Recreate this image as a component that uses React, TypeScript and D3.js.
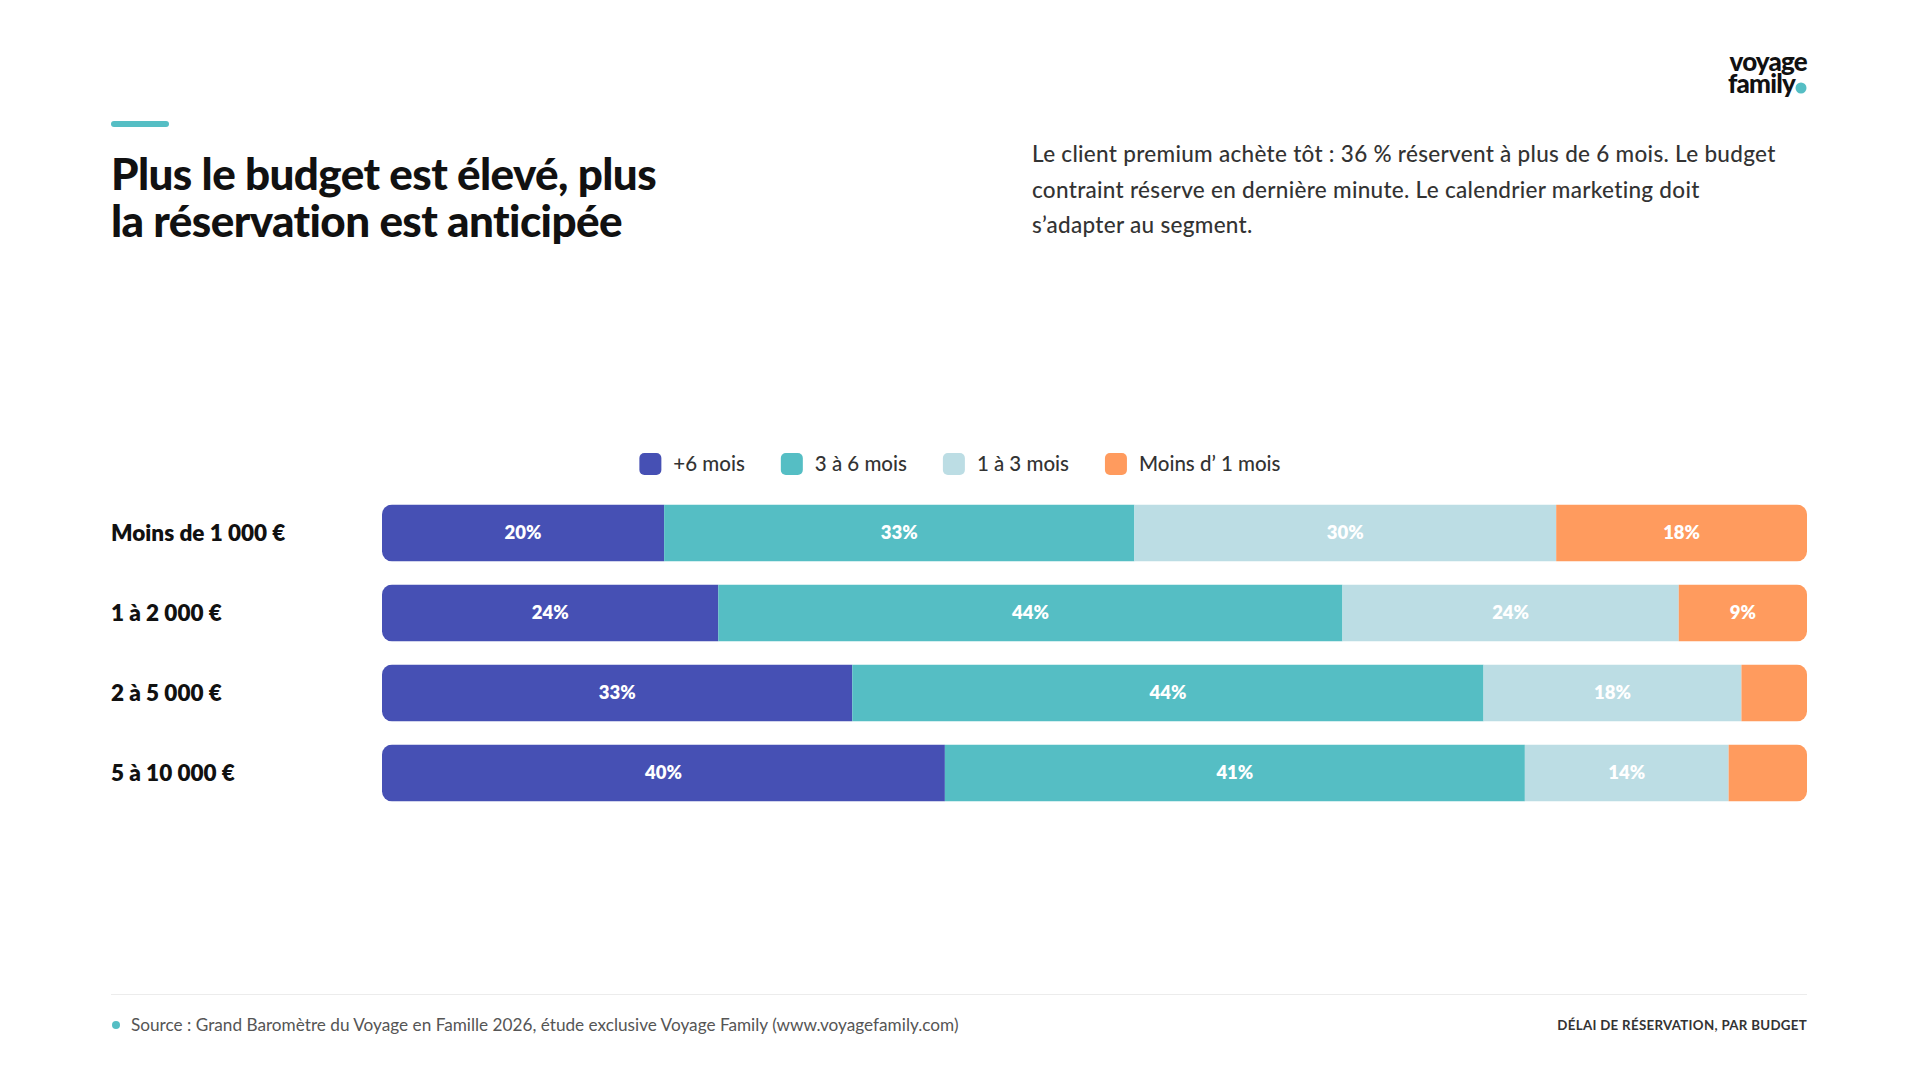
import React from 'react';
import * as d3 from 'd3';

const budgets = ['Moins de 1 000 €', '1 à 2 000 €', '2 à 5 000 €', '5 à 10 000 €'];
const delays = ['+6 mois', '3 à 6 mois', '1 à 3 mois', 'Moins d’ 1 mois'];
const colors = ['#4650B4', '#55BEC4', '#BCDDE4', '#FF9B5E'];

// share of each delay, per budget (same order as delays)
const plus6 = [19.8, 23.6, 33.0, 39.5];
const from3to6 = [33.0, 43.8, 44.3, 40.7];
const from1to3 = [29.6, 23.6, 18.1, 14.3];
const under1 = [17.6, 9.0, 4.6, 5.5];

const title = ['Plus le budget est élevé, plus', 'la réservation est anticipée'];
const subtitle = [
  'Le client premium achète tôt : 36 % réservent à plus de 6 mois. Le budget',
  'contraint réserve en dernière minute. Le calendrier marketing doit',
  's’adapter au segment.',
];
const source = 'Source : Grand Baromètre du Voyage en Famille 2026, étude exclusive Voyage Family (www.voyagefamily.com)';
const footerRight = 'DÉLAI DE RÉSERVATION, PAR BUDGET';

const FONT = 'Lato, "Open Sans", sans-serif';
const W = 1920;
const H = 1080;

const measure = (txt: string, font: string) => {
  const c = document.createElement('canvas').getContext('2d');
  if (!c) return txt.length * 9;
  c.font = font;
  return c.measureText(txt).width;
};

const App = () => {
  const series = [plus6, from3to6, from1to3, under1];
  const rows = budgets.map((b, i) => {
    const vals = series.map(s => s[i]);
    const total = d3.sum(vals);
    let acc = 0;
    const segs = vals.map((v, k) => {
      const s = { key: delays[k], v, x0: acc, x1: acc + v };
      acc += v;
      return s;
    });
    return { budget: b, segs, total };
  });

  const x = d3.scaleLinear().domain([0, 1]).range([382, 1807]);
  const y = d3.scaleBand().domain(budgets).range([481.5, 824.5]).padding(0.2875);

  // legend layout, centred on page
  const legFontSize = 20.5;
  const legFont = `500 ${legFontSize}px ${FONT}`;
  const sw = 22, swGap = 12, itemGap = 36;
  const widths = delays.map(d => sw + swGap + measure(d, legFont));
  const legTotal = d3.sum(widths) + itemGap * (delays.length - 1);
  let lx = W / 2 - legTotal / 2;
  const legend = delays.map((d, i) => {
    const it = { d, x: lx, c: colors[i] };
    lx += widths[i] + itemGap;
    return it;
  });

  return (
    <svg width={W} height={H} style={{ position: 'absolute', left: 0, top: 0, background: '#fff' }} fontFamily={FONT}>
      <rect width={W} height={H} fill="#fff" />
      {/* accent + title */}
      <line x1={114} x2={166} y1={124} y2={124} stroke="#55BEC4" strokeWidth={6} strokeLinecap="round" />
      <text x={111} y={190} fontSize={44} fontWeight={900} fill="#111" letterSpacing={-0.6}>
        {title.map((t, i) => (
          <tspan key={i} x={111} dy={i === 0 ? 0 : 46.5}>{t}</tspan>
        ))}
      </text>
      <text x={1032} y={162} fontSize={22.5} fontWeight={500} fill="#333" letterSpacing={0.3}>
        {subtitle.map((t, i) => (
          <tspan key={i} x={1032} dy={i === 0 ? 0 : 35.5}>{t}</tspan>
        ))}
      </text>

      {/* logo */}
      <text fontWeight={900} fill="#111" fontSize={26} letterSpacing={-0.8} textAnchor="end" y={71}>
        <tspan x={1807}>voyage</tspan>
        <tspan x={1795} dy={22}>family</tspan>
      </text>
      <circle cx={1801} cy={88} r={5.5} fill="#55BEC4" />

      {/* legend */}
      {legend.map(l => (
        <g key={l.d} transform={`translate(${l.x},464)`}>
          <rect x={0} y={-11} width={sw} height={sw} rx={5} fill={l.c} />
          <text x={sw + swGap} y={0} dy="0.35em" fontSize={legFontSize} fontWeight={500} fill="#333">{l.d}</text>
        </g>
      ))}

      {/* bars */}
      <defs>
        {rows.map((r, i) => (
          <clipPath id={`clip${i}`} key={i}>
            <rect x={x(0)} y={y(r.budget)} width={x(1) - x(0)} height={y.bandwidth()} rx={10} />
          </clipPath>
        ))}
      </defs>
      {rows.map((r, i) => {
        const yy = y(r.budget) as number;
        const bh = y.bandwidth();
        return (
          <g key={r.budget}>
            <text x={111} y={yy + bh / 2} dy="0.35em" fontSize={22.5} fontWeight={800} fill="#111">{r.budget}</text>
            <g clipPath={`url(#clip${i})`}>
              {r.segs.map((s, k) => (
                <rect key={s.key} x={x(s.x0 / r.total)} y={yy} width={x(s.x1 / r.total) - x(s.x0 / r.total)} height={bh} fill={colors[k]} />
              ))}
            </g>
            {r.segs.filter(s => s.v >= 8).map(s => (
              <text key={s.key} x={(x(s.x0 / r.total) + x(s.x1 / r.total)) / 2} y={yy + bh / 2} dy="0.35em"
                textAnchor="middle" fontSize={18.5} fontWeight={800} fill="#fff">{Math.round(s.v)}%</text>
            ))}
          </g>
        );
      })}

      {/* footer */}
      <line x1={111} x2={1807} y1={994.5} y2={994.5} stroke="#ececec" strokeWidth={1} />
      <circle cx={116} cy={1025} r={4} fill="#55BEC4" />
      <text x={131} y={1025} dy="0.35em" fontSize={17.2} fill="#555">{source}</text>
      <text x={1807} y={1025} dy="0.35em" textAnchor="end" fontSize={13.3} fontWeight={700} fill="#333" letterSpacing={0.3}>{footerRight}</text>
    </svg>
  );
};

export default App;
